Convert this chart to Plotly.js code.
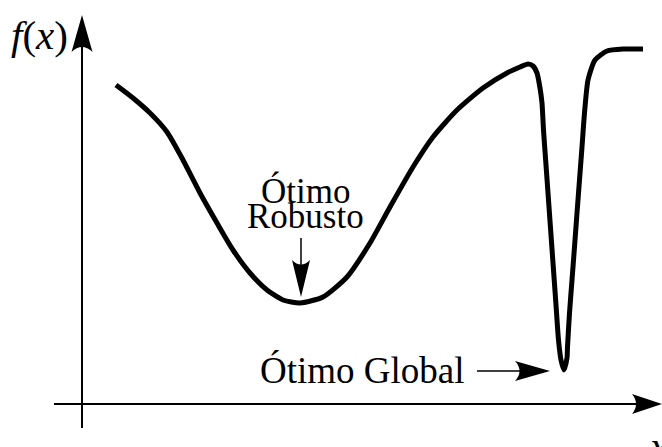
<!DOCTYPE html>
<html>
<head>
<meta charset="utf-8">
<script src="https://cdn.plot.ly/plotly-3.0.1.min.js"></script>
<style>html,body{margin:0;padding:0;background:#fff;}#chart{width:662px;height:447px;}</style>
</head>
<body>
<div id="chart"></div>
<script>
// Curve f(x) (arbitrary units, origin at the axes' crossing)
const xVals = [0.68, 1.02, 1.36, 1.70, 2.02, 2.36, 2.70, 3.02, 3.36, 3.70, 4.02, 4.36, 4.82, 5.30, 5.76, 6.16, 6.62, 7.02, 7.50, 8.02, 8.50, 8.76, 8.92, 9.02, 9.10, 9.16, 9.20, 9.23, 9.28, 9.33, 9.38, 9.43, 9.48, 9.53, 9.58, 9.64, 9.70, 9.71, 9.75, 9.80, 9.85, 9.90, 9.95, 10.00, 10.05, 10.12, 10.26, 10.50, 10.82, 11.22];
const yVals = [6.38, 6.12, 5.82, 5.44, 4.88, 4.22, 3.62, 3.08, 2.62, 2.28, 2.08, 2.02, 2.14, 2.54, 3.22, 3.94, 4.74, 5.34, 5.88, 6.32, 6.62, 6.74, 6.80, 6.76, 6.62, 6.32, 6.02, 5.48, 4.78, 4.08, 3.38, 2.68, 1.98, 1.28, 0.88, 0.68, 0.92, 1.14, 1.82, 2.48, 3.14, 3.82, 4.48, 5.14, 5.82, 6.48, 6.88, 7.06, 7.10, 7.10];

// Labels
const yAxisLabel = '<i>f</i>(<i>x</i>)';
const xAxisLabel = '<i>x</i>';
const robustLines = ['Ótimo', 'Robusto'];
const globalLabel = 'Ótimo Global';

// Marked points
const robustPoint = {x: 4.38, y: 2.14};
const globalPoint = {x: 9.36, y: 0.66};

const serif = 'Liberation Serif, Times New Roman, serif';

const trace = {
  x: xVals, y: yVals, type: 'scatter', mode: 'lines',
  line: {color: '#000', width: 5, shape: 'spline', smoothing: 0.6},
  hoverinfo: 'skip'
};

function head(xa, ya, path) {
  return {type: 'path', xref: 'x', yref: 'y', xsizemode: 'pixel', ysizemode: 'pixel',
    xanchor: xa, yanchor: ya, path: path, fillcolor: '#000', line: {width: 0}};
}
function seg(x0, y0, x1, y1, w) {
  return {type: 'line', xref: 'x', yref: 'y', x0: x0, y0: y0, x1: x1, y1: y1,
    line: {color: '#000', width: w}};
}

const shapes = [
  // y axis
  seg(0, -0.48, 0, 7.2, 2),
  head(0, 7.78, 'M0,0 L-10.5,-37 Q0,-27 10.5,-37 Z'),
  // x axis
  seg(-0.56, 0, 11.2, 0, 2),
  head(11.6, 0, 'M0,0 L-30,10 Q-22,0 -30,-10 Z'),
  // arrow to robust optimum
  seg(robustPoint.x, 3.32, robustPoint.x, 2.7, 1.5),
  head(robustPoint.x, robustPoint.y, 'M0,0 L-9,37 Q0,28 9,37 Z'),
  // arrow to global optimum
  seg(7.90, globalPoint.y, 8.8, globalPoint.y, 1.5),
  head(globalPoint.x, globalPoint.y, 'M0,0 L-35,10 Q-26,0 -35,-10 Z')
];

const annotations = [
  {x: -0.86, y: 7.38, text: yAxisLabel, showarrow: false, font: {family: serif, size: 41, color: '#000'}},
  {x: 11.52, y: -0.84, text: xAxisLabel, showarrow: false, font: {family: serif, size: 40, color: '#000'}},
  {x: 4.46, y: 4.27, text: robustLines[0], showarrow: false, font: {family: serif, size: 35, color: '#000'}},
  {x: 4.46, y: 3.76, text: robustLines[1], showarrow: false, font: {family: serif, size: 35, color: '#000'}},
  {x: 5.61, y: 0.68, text: globalLabel, showarrow: false, font: {family: serif, size: 37, color: '#000'}}
];

const layout = {
  width: 662, height: 447,
  margin: {l: 0, r: 0, t: 0, b: 0, pad: 0},
  paper_bgcolor: '#fff', plot_bgcolor: '#fff',
  showlegend: false, hovermode: false,
  xaxis: {range: [-1.64, 11.6], visible: false, fixedrange: true},
  yaxis: {range: [-0.86, 8.08], visible: false, fixedrange: true},
  shapes: shapes, annotations: annotations
};

Plotly.newPlot('chart', [trace], layout, {staticPlot: true, displayModeBar: false});
</script>
</body>
</html>
